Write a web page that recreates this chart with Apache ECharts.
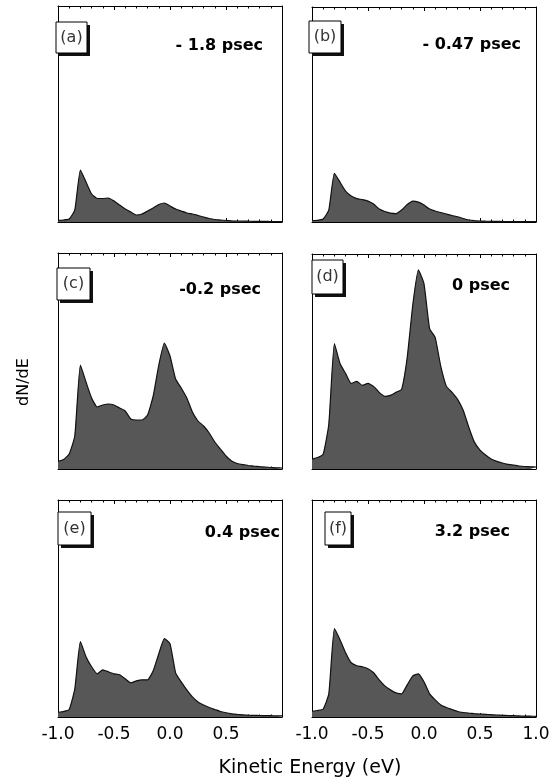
<!DOCTYPE html>
<html>
<head>
<meta charset="utf-8">
<script src="https://cdn.jsdelivr.net/npm/echarts@6/dist/echarts.min.js"></script>
<style>
html,body{margin:0;padding:0;background:#fff;}
#chart{width:556px;height:783px;}
</style>
</head>
<body>
<div id="chart"></div>
<script>
// Kinetic energy grid (eV)
const energy = [-1.00,-0.95,-0.90,-0.85,-0.80,-0.75,-0.70,-0.65,-0.60,-0.55,-0.50,-0.45,-0.40,-0.35,-0.30,-0.25,-0.20,-0.15,-0.10,-0.05,
  0.00,0.05,0.10,0.15,0.20,0.25,0.30,0.35,0.40,0.45,0.50,0.55,0.60,0.65,0.70,0.75,0.80,0.85,0.90,0.95,1.00];

// dN/dE (arb. units) for each delay
const panelA = [1.7,2,3,12,52,40,28,23.5,23.5,24,21,17,13,10,7,8,11,14,17.5,19,16,13,11,9,8,6.5,5,3.5,2.5,2,1.5,1.2,1,1,0.8,0.7,0.6,0.6,0.5,0.5,0.5];
const panelB = [1.5,1.7,3,12,49,40,31,26,23.5,22.5,21,18,13,10.5,9,8.5,12,17.5,21,20,17,13,11,9.5,8,6.5,5.3,3.5,2,1.3,1,0.8,0.7,0.6,0.5,0.5,0.4,0.4,0.3,0.3,0.3];
const panelC = [7.7,9.5,15,33,104,87,71,62,64,65,64,61,58,50,49,49,54,73,104,126,113,90,81,71,57,48,43,36,27,20,13,8,5.5,4.3,3.5,2.8,2.3,2,1.5,1.2,1];
const panelD = [10,11.5,15,45,126,106,96,86,88,84,86,83,77,73,74,77,80,112,165,200,186,141,132,103,83,77,70,59,42,27,19,14,10,7.7,6,4.7,3.8,3,2.5,2.2,2];
const panelE = [4.7,5.5,7.5,28,75,60,50,43,47,45,43,42,38,34,36,37,37,46,63,78,73,44,35,27,20,15,12,9.5,7.5,5.5,4.2,3.2,2.6,2.2,1.8,1.6,1.5,1.4,1.3,1.2,1.1];
const panelF = [5.7,6.5,8,23,88,77,64,54,51,50,48,44,37,31,27,24,23,32,41,43,35,23,17,12,9.5,7.5,5.5,4.5,3.8,3.3,3,2.7,2.3,2,1.7,1.5,1.3,1.1,0.9,0.8,0.7];

const panelLetters = ['(a)','(b)','(c)','(d)','(e)','(f)'];
const delayLabels = ['- 1.8 psec','- 0.47 psec','-0.2 psec','0 psec','0.4 psec','3.2 psec'];
const xTicks = [-1.0,-0.5,0.0,0.5,1.0];
const xAxisTitle = 'Kinetic Energy (eV)';
const yAxisTitle = 'dN/dE';

const allPanels = [panelA,panelB,panelC,panelD,panelE,panelF];

// layout
const grids = [
  {left:58, top:6,   width:224, height:216},
  {left:312,top:7,   width:224, height:215},
  {left:58, top:253, width:224, height:216},
  {left:312,top:254, width:224, height:215},
  {left:58, top:500, width:224, height:217},
  {left:312,top:500, width:224, height:217}
];
const boxes = [
  {x:56, y:22, w:31, h:31},
  {x:309,y:21, w:32, h:32},
  {x:57, y:268,w:33, h:32},
  {x:312,y:260,w:31, h:34},
  {x:58, y:512,w:33, h:33},
  {x:325,y:512,w:26, h:33}
];
const delayPos = [
  {x:263,y:46},{x:521,y:45},{x:261,y:290},{x:510,y:286},{x:280,y:533},{x:510,y:532}
];

const YMAX = 216;
const xAxes = [], yAxes = [], series = [], graphics = [];
grids.forEach((g,i)=>{
  const bottomRow = i >= 4;
  const common = {
    gridIndex:i, type:'value', min:-1, max:1, interval:0.5,
    axisLine:{show:true, onZero:false, lineStyle:{color:'#000', width:1}},
    axisTick:{show:true, inside:true, length:4, lineStyle:{color:'#000'}},
    minorTick:{show:true, splitNumber:5, length:2.5, lineStyle:{color:'#000'}},
    splitLine:{show:false}, minorSplitLine:{show:false}
  };
  xAxes.push(Object.assign({}, common, {
    position:'bottom',
    axisLabel:{
      show:bottomRow, margin:9, color:'#000', fontSize:17, fontFamily:'DejaVu Sans',
      formatter:(v)=>{
        if (i===4 && v===1) return '';
        return xTicks.includes(v) ? v.toFixed(1) : '';
      }
    }
  }));
  xAxes.push(Object.assign({}, common, {position:'top', axisLabel:{show:false}}));
  yAxes.push({gridIndex:i, type:'value', min:0, max:YMAX, position:'left',
    axisLine:{show:true, onZero:false, lineStyle:{color:'#000'}}, axisTick:{show:false},
    axisLabel:{show:false}, splitLine:{show:false}});
  yAxes.push({gridIndex:i, type:'value', min:0, max:YMAX, position:'right',
    axisLine:{show:true, onZero:false, lineStyle:{color:'#000'}}, axisTick:{show:false},
    axisLabel:{show:false}, splitLine:{show:false}});
  series.push({
    type:'line', xAxisIndex:i*2, yAxisIndex:i*2,
    data: energy.map((e,k)=>[e, allPanels[i][k]]),
    showSymbol:false, symbol:'none', smooth:0.15,
    lineStyle:{color:'#111', width:1.2},
    areaStyle:{color:'#575757', opacity:1},
    z:1
  });
  const b = boxes[i];
  graphics.push({type:'rect', shape:{x:b.x+3, y:b.y+3, width:b.w, height:b.h}, style:{fill:'#111'}, z:10});
  graphics.push({type:'rect', shape:{x:b.x, y:b.y, width:b.w, height:b.h}, style:{fill:'#fff', stroke:'#000', lineWidth:1}, z:11});
  graphics.push({type:'text', x:b.x + b.w/2, y:b.y + b.h/2, z:12,
    style:{text:panelLetters[i], fill:'#333', font:'16px "DejaVu Sans"', textAlign:'center', textVerticalAlign:'middle'}});
  const d = delayPos[i];
  graphics.push({type:'text', x:d.x, y:d.y, z:12,
    style:{text:delayLabels[i], fill:'#000', font:'bold 16px "DejaVu Sans"', textAlign:'right', textVerticalAlign:'middle'}});
});
graphics.push({type:'text', x:310, y:768, z:12,
  style:{text:xAxisTitle, fill:'#000', font:'19px "DejaVu Sans"', textAlign:'center', textVerticalAlign:'middle'}});
graphics.push({type:'text', x:24, y:382, rotation:Math.PI/2, z:12,
  style:{text:yAxisTitle, fill:'#000', font:'16px "DejaVu Sans"', textAlign:'center', textVerticalAlign:'middle'}});

const chart = echarts.init(document.getElementById('chart'), null, {renderer:'canvas'});
chart.setOption({
  animation:false,
  backgroundColor:'#fff',
  grid: grids.map(g=>Object.assign({containLabel:false}, g)),
  xAxis: xAxes,
  yAxis: yAxes,
  series: series,
  graphic: graphics
});
</script>
</body>
</html>
